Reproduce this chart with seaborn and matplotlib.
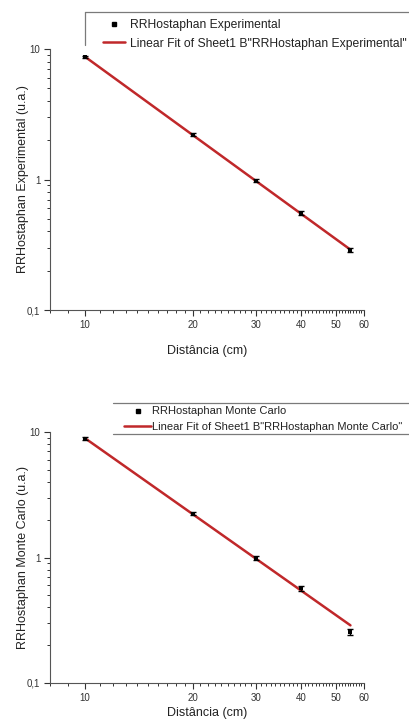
import numpy as np
import pandas as pd
import matplotlib
matplotlib.use("Agg")
import matplotlib.pyplot as plt
import seaborn as sns
from matplotlib.ticker import FixedLocator, FuncFormatter, NullFormatter
from matplotlib.lines import Line2D

# ---- data ----
dist = [10, 20, 30, 40, 55]
rr_exp = [8.7, 2.21, 0.98, 0.555, 0.288]
rr_exp_err = [0.2, 0.06, 0.03, 0.02, 0.012]
rr_mc = [8.85, 2.24, 0.99, 0.567, 0.255]
rr_mc_err = [0.2, 0.06, 0.03, 0.03, 0.015]
fit_x = [10, 55]
fit_exp = [8.75, 0.29]
fit_mc = [8.95, 0.288]

x_major = [10, 20, 30, 40, 50, 60]
x_minor = [v for v in range(8, 61) if v % 10 != 0]

labels_exp = ["RRHostaphan Experimental",
              "Linear Fit of Sheet1 B\"RRHostaphan Experimental\""]
labels_mc = ["RRHostaphan Monte Carlo",
             "Linear Fit of Sheet1 B\"RRHostaphan Monte Carlo\""]
ylabel_exp = "RRHostaphan Experimental (u.a.)"
ylabel_mc = "RRHostaphan Monte Carlo (u.a.)"
xlabel = "Distância (cm)"

sns.set_style("ticks")
plt.rcParams["font.family"] = ["Liberation Sans", "DejaVu Sans"]

RED = "#c0282a"
FRAME = "#7a7a7a"
W, H = 410, 719
fig = plt.figure(figsize=(W / 100, H / 100), dpi=100)


def px_axes(left, top, right, bottom):
    return fig.add_axes([left / W, 1 - bottom / H, (right - left) / W, (bottom - top) / H])


def fig_line(x0, y0, x1, y1):
    fig.add_artist(Line2D([x0 / W, x1 / W], [1 - y0 / H, 1 - y1 / H],
                          transform=fig.transFigure, color=FRAME, linewidth=0.9))


def ytick_fmt(v, pos):
    if v >= 1:
        return f"{v:g}"
    return f"{v:g}".replace(".", ",")


def draw(ax, y, yerr, fit_y, ylabel, labels, xlab_y, leg_px, leg_fs, leg_sp,
         hlen, htp):
    df = pd.DataFrame({"x": dist, "y": y})
    dfit = pd.DataFrame({"x": fit_x, "y": fit_y})
    ax.set_xscale("log")
    ax.set_yscale("log")
    sns.lineplot(data=dfit, x="x", y="y", ax=ax, color=RED, linewidth=1.8, zorder=2)
    ax.errorbar(dist, y, yerr=yerr, fmt="none", ecolor="black", elinewidth=1.0,
                capsize=2.2, capthick=1.0, zorder=3)
    sns.scatterplot(data=df, x="x", y="y", ax=ax, color="black", marker="s", s=7,
                    edgecolor="black", linewidth=0, zorder=4)
    ax.set_xlim(8, 60)
    ax.set_ylim(0.1, 10)
    for s in ["top", "right"]:
        ax.spines[s].set_visible(False)
    for s in ["left", "bottom"]:
        ax.spines[s].set_color("#555555")
        ax.spines[s].set_linewidth(0.8)
    ax.xaxis.set_major_locator(FixedLocator(x_major))
    ax.xaxis.set_minor_locator(FixedLocator(x_minor))
    ax.xaxis.set_major_formatter(FuncFormatter(lambda v, p: f"{v:g}"))
    ax.xaxis.set_minor_formatter(NullFormatter())
    ax.yaxis.set_major_formatter(FuncFormatter(ytick_fmt))
    ax.yaxis.set_minor_formatter(NullFormatter())
    ax.tick_params(axis="both", which="major", direction="out", length=4, width=0.8,
                   labelsize=7, colors="#333333", pad=3)
    ax.tick_params(axis="both", which="minor", direction="out", length=2.2, width=0.7,
                   colors="#333333")
    ax.set_xlabel(xlabel, fontsize=9, color="#222222")
    ax.set_ylabel(ylabel, fontsize=9, color="#222222")
    bb = ax.get_position()
    axw, axh = bb.width * W, bb.height * H
    ax.yaxis.set_label_coords(-21 / axw, 0.5)
    ax.xaxis.set_label_coords(0.5, -xlab_y / axh)
    handles = [Line2D([], [], color="black", marker="s", markersize=2.5, linestyle="none"),
               Line2D([], [], color=RED, linewidth=1.8)]
    lx, ly = leg_px
    leg = fig.legend(handles, labels, loc="upper left",
                     bbox_to_anchor=(lx / W, 1 - ly / H), bbox_transform=fig.transFigure,
                     fontsize=leg_fs, frameon=False, borderaxespad=0,
                     borderpad=0, handlelength=hlen, handletextpad=htp,
                     labelspacing=leg_sp)
    for t in leg.get_texts():
        t.set_color("#222222")


ax1 = px_axes(50, 49, 364, 310)
draw(ax1, rr_exp, rr_exp_err, fit_exp, ylabel_exp, labels_exp, 35,
     (103, 19), 8.7, 0.54, 1.85, 0.4)
fig_line(85, 12, 412, 12)
fig_line(85, 12, 85, 45)

ax2 = px_axes(50, 432, 364, 683)
draw(ax2, rr_mc, rr_mc_err, fit_mc, ylabel_mc, labels_mc, 24,
     (124, 406.5), 8, 0.47, 2.43, 0.1)
fig_line(113, 403, 412, 403)
fig_line(113, 434, 412, 434)

fig.savefig("out.png", dpi=100)
